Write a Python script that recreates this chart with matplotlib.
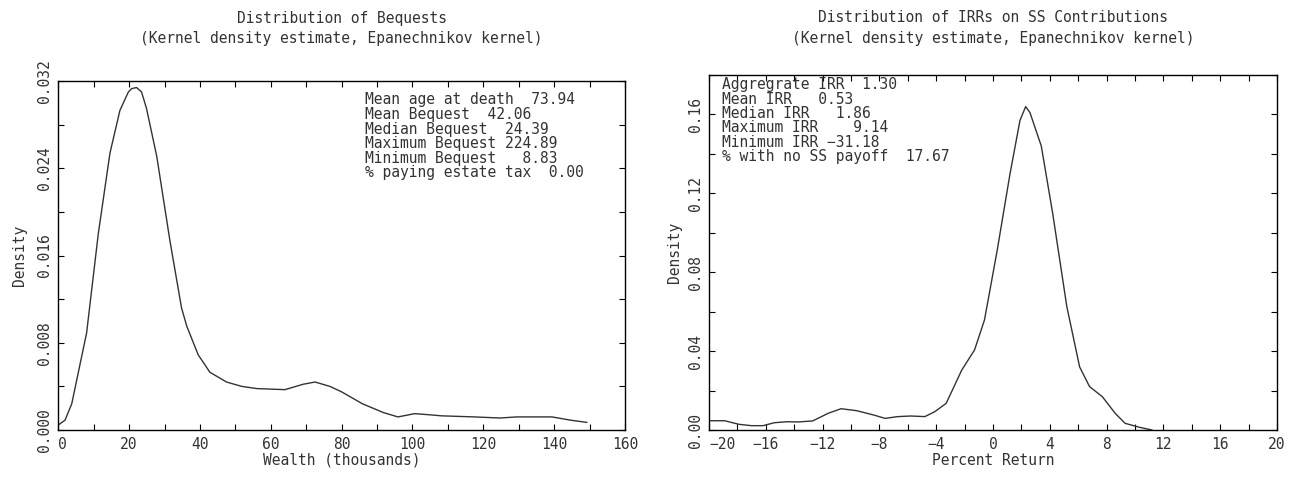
import numpy as np
import matplotlib.pyplot as plt
from matplotlib.ticker import MultipleLocator, FormatStrFormatter

# bequest density (wealth in thousands)
wealth = [0, 1.9, 3.8, 8.0, 11.3, 14.6, 17.4, 19.8, 20.7, 22.1, 23.5, 24.9, 27.8, 31.5,
          34.8, 36.3, 39.5, 42.8, 47.5, 51.8, 56.0, 64.0, 69.2, 72.5, 76.7, 80.0, 85.9,
          91.8, 95.9, 100.6, 104.7, 108.2, 117.6, 124.7, 129.4, 139.4, 144.7, 149.2]
bequestDensity = [0.00046, 0.0009, 0.0024, 0.0089, 0.018, 0.0254, 0.0293, 0.0310,
                  0.0313, 0.0314, 0.0310, 0.0295, 0.0251, 0.0174, 0.0112, 0.0095,
                  0.0069, 0.0053, 0.0044, 0.0040, 0.0038, 0.0037, 0.0042, 0.0044,
                  0.0040, 0.0035, 0.0024, 0.0016, 0.0012, 0.0015, 0.0014, 0.0013,
                  0.0012, 0.0011, 0.0012, 0.0012, 0.0009, 0.0007]

# IRR density (percent return)
irr = [-19.9, -18.9, -17.9, -17.0, -16.2, -15.4, -14.5, -13.7, -12.7, -11.6, -10.7,
       -9.6, -8.4, -7.6, -6.7, -5.8, -4.8, -4.1, -3.3, -2.2, -1.3, -0.6, 0.3, 1.2,
       1.9, 2.3, 2.6, 3.4, 4.2, 5.2, 6.1, 6.8, 7.7, 8.6, 9.3, 10.3, 11.2]
irrDensity = [0.0047, 0.0047, 0.0029, 0.0022, 0.0022, 0.0037, 0.0042, 0.0041, 0.0046,
              0.0085, 0.0108, 0.0098, 0.0076, 0.0059, 0.0068, 0.0071, 0.0068, 0.0093,
              0.0135, 0.0304, 0.0406, 0.0558, 0.0913, 0.130, 0.157, 0.164, 0.161,
              0.144, 0.110, 0.0625, 0.032, 0.022, 0.0169, 0.0085, 0.0034, 0.0014, 0.0]

bequestStats = ["Mean age at death  73.94",
                "Mean Bequest  42.06",
                "Median Bequest  24.39",
                "Maximum Bequest 224.89",
                "Minimum Bequest   8.83",
                "% paying estate tax  0.00"]
irrStats = ["Aggregrate IRR  1.30",
            "Mean IRR   0.53",
            "Median IRR   1.86",
            "Maximum IRR    9.14",
            "Minimum IRR \u221231.18",
            "% with no SS payoff  17.67"]

# wide, plain lettering closer to the original plotting font
plt.rcParams['font.family'] = ['DejaVu Sans Mono', 'DejaVu Sans']
TXT = '#333333'
FS = 10.5


def styleAxes(ax, xmaj, xmin, ymaj, ymin, yfmt):
    ax.xaxis.set_major_locator(MultipleLocator(xmaj))
    ax.xaxis.set_minor_locator(MultipleLocator(xmin))
    ax.yaxis.set_major_locator(MultipleLocator(ymaj))
    ax.yaxis.set_minor_locator(MultipleLocator(ymin))
    ax.yaxis.set_major_formatter(FormatStrFormatter(yfmt))
    ax.tick_params(which='both', direction='in', top=True, right=True,
                   length=4, width=0.8, colors='black', labelcolor=TXT, labelsize=FS)
    ax.tick_params(axis='x', pad=5)
    ax.tick_params(axis='y', pad=4.5, labelrotation=90)
    for s in ax.spines.values():
        s.set_linewidth(1.0)


fig = plt.figure(figsize=(12.95, 4.83), dpi=100)

# left panel
ax1 = fig.add_axes([0.0450, 0.1097, 0.4376, 0.7226])
ax1.plot(wealth, bequestDensity, color='#333333', lw=1.0)
ax1.set_xlim(0, 160)
ax1.set_ylim(0, 0.032)
styleAxes(ax1, 20, 10, 0.008, 0.004, '%.3f')
ax1.set_xlabel("Wealth (thousands)", fontsize=FS, color=TXT, va='center')
ax1.xaxis.set_label_coords(0.5, -0.086)
ax1.set_ylabel("Density", fontsize=FS, color=TXT, va='center')
ax1.yaxis.set_label_coords(-0.0676, 0.5)
for i, line in enumerate(bequestStats):
    ax1.text(0.541, 0.9456 - i * 0.0418, line, transform=ax1.transAxes,
             fontsize=FS, color=TXT, va='center', ha='left')

# right panel
ax2 = fig.add_axes([0.5475, 0.1097, 0.4386, 0.7350])
ax2.plot(irr, irrDensity, color='#333333', lw=1.0)
ax2.set_xlim(-20, 20)
ax2.set_ylim(0, 0.18)
styleAxes(ax2, 4, 2, 0.04, 0.02, '%.2f')
ax2.set_xlabel("Percent Return", fontsize=FS, color=TXT, va='center')
ax2.xaxis.set_label_coords(0.5, -0.0845)
ax2.set_ylabel("Density", fontsize=FS, color=TXT, va='center')
ax2.yaxis.set_label_coords(-0.0599, 0.5)
for i, line in enumerate(irrStats):
    ax2.text(0.0229, 0.972 - i * 0.0403, line, transform=ax2.transAxes,
             fontsize=FS, color=TXT, va='center', ha='left')

# titles
titles = [("Distribution of Bequests", ax1), ("Distribution of IRRs on SS Contributions", ax2)]
for title, ax in titles:
    pos = ax.get_position()
    xc = (pos.x0 + pos.x1) / 2
    fig.text(xc, 1 - 18 / 483, title, ha='center', va='center', fontsize=FS, color=TXT)
    fig.text(xc, 1 - 38 / 483, "(Kernel density estimate, Epanechnikov kernel)",
             ha='center', va='center', fontsize=FS, color=TXT)

# first x label sits to the right of its tick, clear of the y labels
fig.canvas.draw()
for ax in (ax1, ax2):
    for lab in ax.get_yticklabels():
        lab.set_va('center')
    x0 = ax.get_xlim()[0]
    for tick in ax.xaxis.get_major_ticks():
        if np.isclose(tick.get_loc(), x0):
            tick.label1.set_ha('left')

fig.savefig("out.png", dpi=100)
plt.close()
